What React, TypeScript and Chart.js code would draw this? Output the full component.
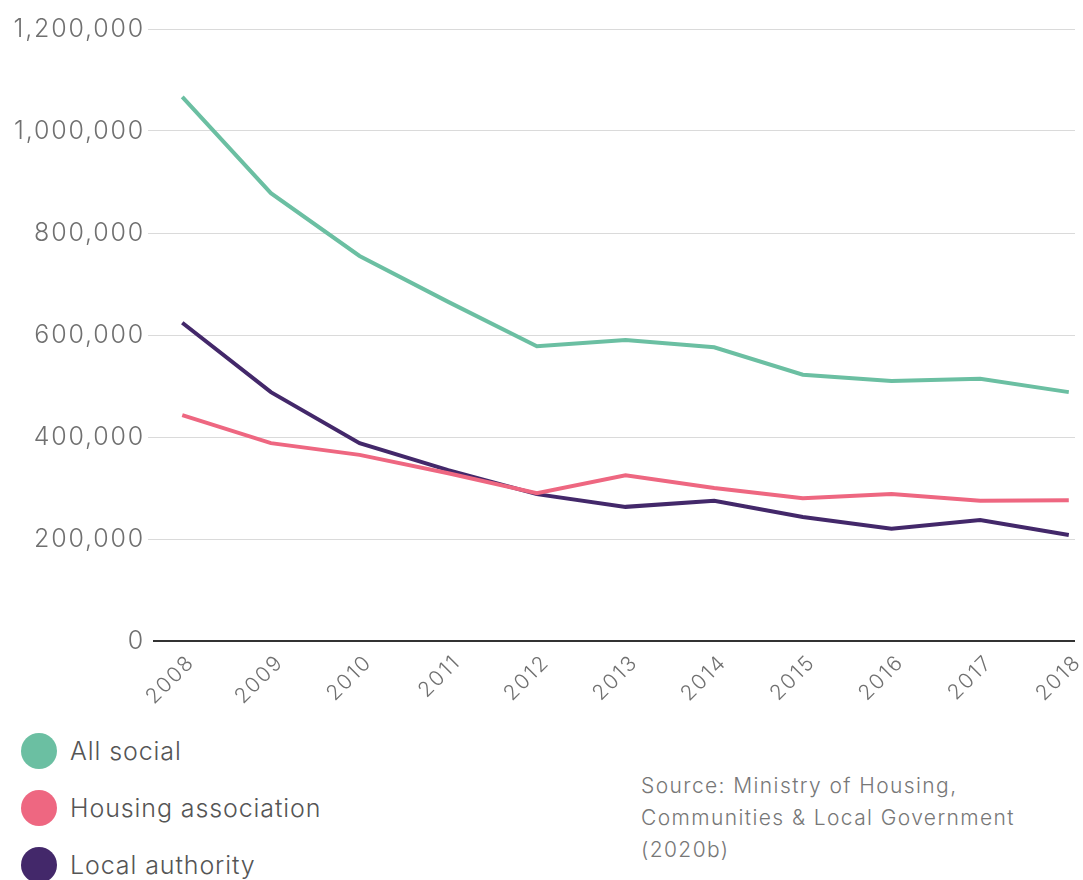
import React, { useEffect, useRef } from "react";
import { Chart, registerables } from "chart.js";

Chart.register(...registerables);

const years = [2008, 2009, 2010, 2011, 2012, 2013, 2014, 2015, 2016, 2017, 2018];
const allSocial = [1067000, 878000, 755000, 665000, 578000, 590000, 576000, 522000, 510000, 514000, 488000];
const housingAssociation = [443000, 388000, 365000, 329000, 290000, 325000, 300000, 280000, 288000, 275000, 276000];
const localAuthority = [624000, 488000, 388000, 335000, 288000, 263000, 275000, 243000, 220000, 237000, 208000];
const yTicks = [0, 200000, 400000, 600000, 800000, 1000000, 1200000];

const GREEN = "#6bbfa2";
const PINK = "#ee6781";
const PURPLE = "#43286a";
const FONT = "Inter, 'Open Sans', sans-serif";

const legendItems = [
  { label: "All social", color: GREEN },
  { label: "Housing association", color: PINK },
  { label: "Local authority", color: PURPLE },
];

const spacingPlugin = {
  id: "letterSpacing",
  beforeDraw(chart: any) {
    try { chart.ctx.letterSpacing = "1.8px"; } catch (e) { /* ignore */ }
  },
};

export default function App() {
  const canvasRef = useRef<HTMLCanvasElement | null>(null);

  useEffect(() => {
    document.body.style.margin = "0";
    const canvas = canvasRef.current;
    if (!canvas) return;
    const toXY = (vals: number[]) => vals.map((v, i) => ({ x: years[i], y: v }));
    const chart = new Chart(canvas, {
      type: "line",
      plugins: [spacingPlugin],
      data: {
        datasets: [
          { label: "All social", data: toXY(allSocial), borderColor: GREEN, borderWidth: 4, pointRadius: 0, tension: 0 },
          { label: "Housing association", data: toXY(housingAssociation), borderColor: PINK, borderWidth: 4, pointRadius: 0, tension: 0 },
          { label: "Local authority", data: toXY(localAuthority), borderColor: PURPLE, borderWidth: 4, pointRadius: 0, tension: 0 },
        ],
      },
      options: {
        animation: false,
        responsive: false,
        maintainAspectRatio: false,
        layout: { padding: { top: 29, right: 8, left: 0, bottom: 0 } },
        plugins: { legend: { display: false }, tooltip: { enabled: false } },
        scales: {
          x: {
            type: "linear",
            min: 2007.67,
            max: 2018.07,
            afterFit: (s: any) => { s.height = 79; s.paddingLeft = 0; s.paddingRight = 0; },
            grid: { display: false },
            border: { display: false },
            ticks: {
              stepSize: 1,
              includeBounds: false,
              autoSkip: false,
              maxRotation: 45,
              minRotation: 45,
              padding: 1,
              labelOffset: 9,
              color: "#707070",
              font: { family: FONT, size: 21, weight: 300 },
              callback: (v: any) => String(v),
            },
          },
          y: {
            min: 0,
            max: 1200000,
            afterFit: (s: any) => { s.width = 153; },
            afterBuildTicks: (s: any) => { s.ticks = yTicks.map((v) => ({ value: v })); },
            border: { display: false },
            grid: {
              color: (c: any) => (c.tick && c.tick.value === 0 ? "#333333" : "#dadada"),
              lineWidth: (c: any) => (c.tick && c.tick.value === 0 ? 2 : 1),
              tickColor: (c: any) => (c.tick && c.tick.value === 0 ? "rgba(0,0,0,0)" : "#dadada"),
              tickLength: 5,
            },
            ticks: {
              padding: 3,
              color: "#707070",
              font: { family: FONT, size: 25, weight: 300 },
              callback: (v: any) => Number(v).toLocaleString("en-GB"),
            },
          },
        },
      },
    });
    return () => chart.destroy();
  }, []);

  return (
    <div style={{ position: "relative", width: 1083, height: 880, overflow: "hidden", background: "#fff", fontFamily: FONT, fontWeight: 300 }}>
      <canvas ref={canvasRef} width={1083} height={720} style={{ position: "absolute", left: 0, top: 0, width: 1083, height: 720 }} />
      {legendItems.map((it, i) => (
        <div key={it.label} style={{ position: "absolute", left: 21, top: 733 + i * 57, height: 36, display: "flex", alignItems: "center" }}>
          <div style={{ width: 36, height: 36, borderRadius: "50%", background: it.color }} />
          <span style={{ marginLeft: 13, fontSize: 25, letterSpacing: "0.9px", color: "#555555" }}>{it.label}</span>
        </div>
      ))}
      <div style={{ position: "absolute", left: 641, top: 770, fontSize: 21, letterSpacing: "1.4px", lineHeight: "32px", color: "#777777" }}>
        Source: Ministry of Housing,<br />
        Communities &amp; Local Government<br />
        (2020b)
      </div>
    </div>
  );
}
